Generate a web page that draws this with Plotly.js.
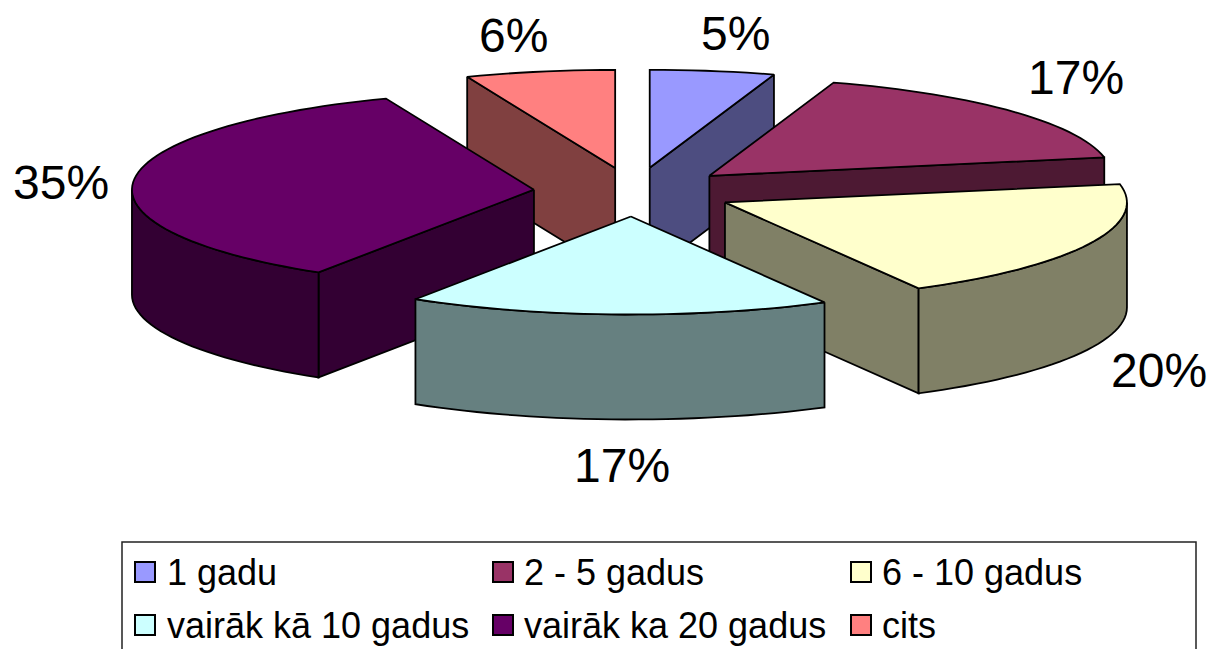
<!DOCTYPE html>
<html><head><meta charset="utf-8">
<script src="https://cdn.plot.ly/plotly-3.0.1.min.js"></script>
<style>html,body{margin:0;padding:0;background:#fff;overflow:hidden}#c{width:1210px;height:649px}</style>
</head><body><div id="c"></div>
<script>
const categories = ["1 gadu","2 - 5 gadus","6 - 10 gadus","vairāk kā 10 gadus","vairāk ka 20 gadus","cits"];
const values = [5,17,20,17,35,6];
const topColors = ["#9999FF","#993366","#FFFFCC","#CCFFFF","#660066","#FF8080"];
const sideColors = ["#4D4D80","#4D1933","#808066","#668080","#330033","#804040"];

const CX=634, CY=192, RX=402, RY=98, DEPTH=105, EXPLODE=0.25;
const FONT="Liberation Sans, Arial, sans-serif";
const rad=d=>d*Math.PI/180;
const total=values.reduce((a,b)=>a+b,0);

let acc=0;
const slices=values.map((v,i)=>{
  const start=acc/total*360; acc+=v; const end=acc/total*360; const mid=(start+end)/2;
  return {i,start,end,mid,
    ax:CX+EXPLODE*RX*Math.sin(rad(mid)),
    ay:CY-EXPLODE*RY*Math.cos(rad(mid))};
});
function rim(s,a,dz){return [s.ax+RX*Math.sin(rad(a)), s.ay-RY*Math.cos(rad(a))+dz];}
function poly(pts,fill,name){
  const xs=pts.map(p=>p[0]), ys=pts.map(p=>p[1]);
  xs.push(xs[0]); ys.push(ys[0]);
  return {type:"scatter",mode:"lines",x:xs,y:ys,fill:"toself",fillcolor:fill,
    line:{color:"#000",width:1.8,simplify:false},showlegend:false,hoverinfo:"skip",name};
}
function arcPts(s,a0,a1,dz){const p=[];const n=Math.max(2,Math.ceil((a1-a0)/2));
  for(let k=0;k<=n;k++)p.push(rim(s,a0+(a1-a0)*k/n,dz));return p;}

const traces=[];
slices.slice().sort((a,b)=>a.ay-b.ay).forEach(s=>{
  const side=sideColors[s.i], top=topColors[s.i], nm=categories[s.i];
  if(s.start>180&&s.start<360){
    const r=rim(s,s.start,0), rb=rim(s,s.start,DEPTH);
    traces.push(poly([[s.ax,s.ay],r,rb,[s.ax,s.ay+DEPTH]],side,nm));
  }
  if(s.end>0&&s.end<180){
    const r=rim(s,s.end,0), rb=rim(s,s.end,DEPTH);
    traces.push(poly([[s.ax,s.ay],r,rb,[s.ax,s.ay+DEPTH]],side,nm));
  }
  const a0=Math.max(s.start,90), a1=Math.min(s.end,270);
  if(a1>a0){
    traces.push(poly(arcPts(s,a0,a1,0).concat(arcPts(s,a0,a1,DEPTH).reverse()),side,nm));
  }
  traces.push(poly([[s.ax,s.ay]].concat(arcPts(s,s.start,s.end,0)),top,nm));
});

// legend: swatch markers + text, laid out in 3 columns, 2 rows
const swatchX=[145,503,861], textX=[167,524,882], rowY=[572,625];
categories.forEach((c,i)=>traces.push({type:"scatter",mode:"markers",
  x:[swatchX[i%3]],y:[rowY[Math.floor(i/3)]],name:c,showlegend:false,hoverinfo:"skip",
  marker:{symbol:"square",size:20,color:topColors[i],line:{color:"#000",width:2}}}));

const labelPos=[[735,33],[1076,77],[1159,370],[622,465],[61,182],[513,35]];
const annotations=values.map((v,i)=>({xref:"x",yref:"y",x:labelPos[i][0],y:labelPos[i][1],
  text:v+"%",showarrow:false,xanchor:"center",yanchor:"middle",font:{family:FONT,size:48,color:"#000"}}));
categories.forEach((c,i)=>annotations.push({xref:"x",yref:"y",x:textX[i%3],y:rowY[Math.floor(i/3)],
  text:c,showarrow:false,xanchor:"left",yanchor:"middle",xshift:-2,
  font:{family:FONT,size:36,color:"#000"}}));

const layout={width:1210,height:649,margin:{l:0,r:0,t:0,b:0},paper_bgcolor:"#fff",plot_bgcolor:"#fff",
  hovermode:false,showlegend:false,
  xaxis:{range:[0,1210],visible:false,fixedrange:true},
  yaxis:{range:[649,0],visible:false,fixedrange:true},
  shapes:[{type:"rect",xref:"x",yref:"y",x0:122,x1:1196,y0:542,y1:670,line:{color:"#222",width:1.5},layer:"below"}],
  annotations};
Plotly.newPlot("c",traces,layout,{displayModeBar:false,staticPlot:true});
</script></body></html>
